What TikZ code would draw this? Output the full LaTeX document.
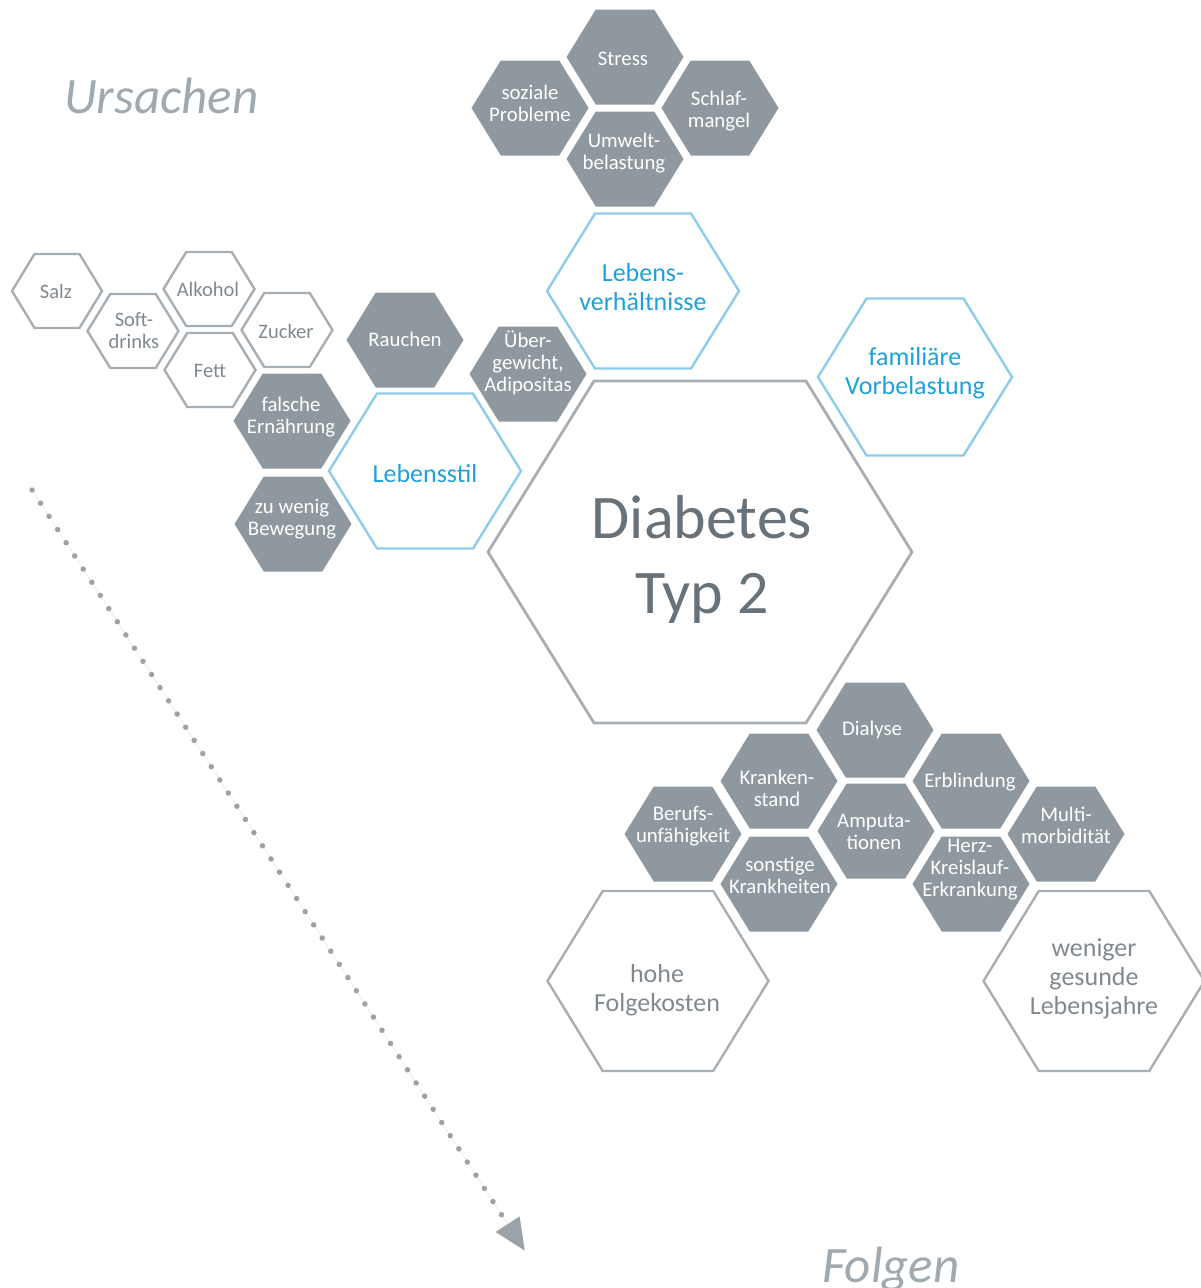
\documentclass[tikz,border=0pt]{standalone}
\usepackage{fontspec}
\setmainfont{Carlito}
\usetikzlibrary{arrows.meta}
\definecolor{hexgray}{HTML}{8E989E}
\definecolor{linegray}{HTML}{A7AFB4}
\definecolor{blueline}{HTML}{8FCBEA}
\definecolor{bluetxt}{HTML}{1DA1DB}
\definecolor{txtgray}{HTML}{7F898F}
\definecolor{maingray}{HTML}{67727A}
\definecolor{titlegray}{HTML}{A0A9AF}
\definecolor{dotgray}{HTML}{9AA3A9}
% hexagon with flat top: centre x, centre y, width, height, style
\newcommand{\hexshape}[5]{%
  \path[#5] (#1-#3/2,#2) -- (#1-#3/4,#2-#4/2) -- (#1+#3/4,#2-#4/2) -- (#1+#3/2,#2)
    -- (#1+#3/4,#2+#4/2) -- (#1-#3/4,#2+#4/2) -- cycle;}
\tikzset{
  hexfill/.style={fill=hexgray},
  hexline/.style={draw=linegray, line width=2.4pt, line join=miter},
  hexblue/.style={draw=blueline, line width=2.4pt, line join=miter},
  hexmain/.style={draw=linegray, line width=2.8pt, line join=miter},
  txtfill/.style={text=white, align=center, inner sep=0pt, font=\fontsize{20.8}{22}\selectfont},
  txtsmall/.style={text=txtgray, align=center, inner sep=0pt, font=\fontsize{20.5}{22}\selectfont},
  txtblue/.style={text=bluetxt, align=center, inner sep=0pt, font=\fontsize{26}{29}\selectfont},
  txtbig/.style={text=txtgray, align=center, inner sep=0pt, font=\fontsize{26}{29}\selectfont},
  txtmain/.style={text=maingray, align=center, inner sep=0pt, font=\fontsize{62}{75}\selectfont},
  title/.style={text=titlegray, inner sep=0pt, anchor=base west, font=\fontsize{51}{60}\selectfont\itshape},
  dotarrow/.style={draw=dotgray, fill=dotgray, line width=5.5pt, line cap=round,
    dash pattern=on 0pt off 15.7pt, -{Triangle[length=32pt,width=27pt]}}
}
\begin{document}
\begin{tikzpicture}[x=1pt,y=-1pt]
\useasboundingbox (0,0) rectangle (1200,1288);

% titles
\node[title] (ursachen) at (64,113) {Ursachen};
\node[title] (folgen) at (822,1282) {Folgen};

% dotted arrow
\coordinate (arrowstart) at (32,490);
\coordinate (arrowend) at (525,1251);
\draw[dotarrow] (arrowstart) -- (arrowend);

% small outline hexagons
\hexshape{57}{291}{90}{74}{hexline}
\hexshape{133}{331}{91}{74}{hexline}
\hexshape{209}{289}{91}{74}{hexline}
\hexshape{287}{330}{91}{74}{hexline}
\hexshape{210}{370}{91}{74}{hexline}
\node[txtsmall] (salz) at (56,291) {Salz};
\node[txtsmall] (softdrinks) at (134,331) {Soft-\\drinks};
\node[txtsmall] (alkohol) at (208,289) {Alkohol};
\node[txtsmall] (zucker) at (286,331) {Zucker};
\node[txtsmall] (fett) at (210,371) {Fett};

% filled hexagons, Lebensstil group
\hexshape{292}{421}{117}{95}{hexfill}
\hexshape{293}{524}{117}{95}{hexfill}
\hexshape{405}{340}{117}{95}{hexfill}
\hexshape{528}{374}{117}{95}{hexfill}
\node[txtfill] (ernaehrung) at (291,417) {falsche\\Ernährung};
\node[txtfill] (bewegung) at (292,519) {zu wenig\\Bewegung};
\node[txtfill] (rauchen) at (405,339) {Rauchen};
\node[txtfill] (uebergewicht) at (528,363) {Über-\\gewicht,\\Adipositas};

% filled hexagons, Lebensverhaeltnisse group
\hexshape{625}{57}{117}{95}{hexfill}
\hexshape{530}{108}{117}{95}{hexfill}
\hexshape{720}{108}{117}{95}{hexfill}
\hexshape{625}{159}{117}{95}{hexfill}
\node[txtfill] (stress) at (623,59) {Stress};
\node[txtfill] (soziale) at (530,103) {soziale\\Probleme};
\node[txtfill] (schlaf) at (719,111) {Schlaf-\\mangel};
\node[txtfill] (umwelt) at (624,153) {Umwelt-\\belastung};

% blue hexagons
\hexshape{425}{471}{192}{155}{hexblue}
\hexshape{643}{291}{192}{155}{hexblue}
\hexshape{915}{377}{194}{157}{hexblue}
\node[txtblue] (lebensstil) at (425,474) {Lebensstil};
\node[txtblue] (lebensverh) at (643,287) {Lebens-\\verhältnisse};
\node[txtblue] (familie) at (915,373) {familiäre\\Vorbelastung};

% main hexagon
\hexshape{700}{552}{424}{342}{hexmain}
\node[txtmain] (diabetes) at (702,559) {Diabetes\\Typ 2};

% filled hexagons, consequences
\hexshape{875}{730}{117}{95}{hexfill}
\hexshape{779}{781}{117}{95}{hexfill}
\hexshape{971}{781}{117}{95}{hexfill}
\hexshape{683}{834}{117}{95}{hexfill}
\hexshape{876}{831}{117}{95}{hexfill}
\hexshape{1066}{834}{117}{95}{hexfill}
\hexshape{779}{884}{117}{95}{hexfill}
\hexshape{971}{884}{117}{95}{hexfill}
\node[txtfill] (dialyse) at (872,730) {Dialyse};
\node[txtfill] (krankenstand) at (777,788) {Kranken-\\stand};
\node[txtfill] (erblindung) at (970,782) {Erblindung};
\node[txtfill] (berufs) at (683,826) {Berufs-\\unfähigkeit};
\node[txtfill] (amputation) at (874,832) {Amputa-\\tionen};
\node[txtfill] (multi) at (1066,825) {Multi-\\morbidität};
\node[txtfill] (sonstige) at (780,875) {sonstige\\Krankheiten};
\node[txtfill] (herz) at (970,870) {Herz-\\Kreislauf-\\Erkrankung};

% large outline hexagons
\hexshape{658}{981}{221}{180}{hexline}
\hexshape{1094}{981}{221}{180}{hexline}
\node[txtbig] (folgekosten) at (657,990) {hohe\\Folgekosten};
\node[txtbig] (lebensjahre) at (1094,979) {weniger\\gesunde\\Lebensjahre};
\end{tikzpicture}
\end{document}
